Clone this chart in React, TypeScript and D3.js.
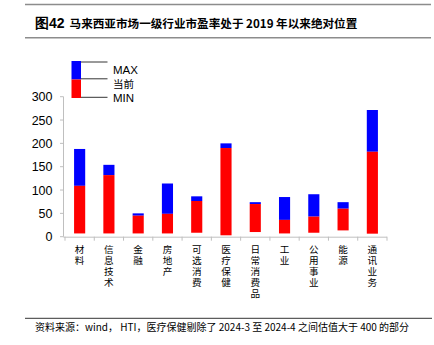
import React from "react";
import * as d3 from "d3";

const categories = ["材料", "信息技术", "金融", "房地产", "可选消费", "医疗保健", "日常消费品", "工业", "公用事业", "能源", "通讯业务"];
const minVals = [7, 7, 7, 7, 8.5, 3, 10, 7, 8.5, 13.5, 6.5];
const curVals = [109, 132, 45, 49, 76.5, 190, 70, 36, 43, 60, 182];
const maxVals = [188, 154, 50, 114, 86.5, 200, 74, 85, 91, 74, 271.5];
const yTicks = [0, 50, 100, 150, 200, 250, 300];
const legendLabels = ["MAX", "当前", "MIN"];
const title = "马来西亚市场一级行业市盈率处于 2019 年以来绝对位置";
const titlePrefix = "图42";
const source = "资料来源：wind， HTI，医疗保健剔除了 2024-3 至 2024-4 之间估值大于 400 的部分";

const RED = "#FF0000";
const BLUE = "#0000FF";
const AXIS = "#BFBFBF";
const CJK = "'Noto Sans CJK SC', sans-serif";
const LAT = "'Liberation Sans', Arial, sans-serif";

export default function App() {
  const x = d3.scaleBand<string>().domain(categories).range([65, 387]).paddingInner(0.62).paddingOuter(0.31);
  const y = d3.scaleLinear().domain([0, 300]).range([236.7, 96.7]);
  const step = x.step();
  const x0 = 65;

  return (
    <svg width={434} height={345} style={{ position: "absolute", left: 0, top: 0, background: "#fff" }}>
      {/* title */}
      <line x1={25} x2={431} y1={4.5} y2={4.5} stroke="#8c8c8c" strokeWidth={1.5} />
      <text x={35} y={27.5} fontFamily={CJK} fontSize={11.6} fill="#000">
        <tspan fontWeight="bold" fontFamily={LAT} fontSize={14}>{titlePrefix}</tspan>
        <tspan dx={5} fontWeight="bold">{title}</tspan>
      </text>
      <line x1={25} x2={431} y1={37.8} y2={37.8} stroke="#8c8c8c" strokeWidth={1.5} />

      {/* legend */}
      <rect x={71.5} y={61} width={9.5} height={18.5} fill={BLUE} />
      <rect x={71.5} y={79.5} width={9.5} height={18.5} fill={RED} />
      <line x1={81} x2={107.5} y1={62} y2={62} stroke="#000" strokeWidth={0.8} />
      <line x1={81} x2={107.5} y1={78.8} y2={78.8} stroke="#000" strokeWidth={0.8} />
      <line x1={81} x2={107.5} y1={97.3} y2={97.3} stroke="#000" strokeWidth={0.8} />
      <text x={113} y={73.5} fontFamily={LAT} fontSize={11.5}>{legendLabels[0]}</text>
      <text x={113} y={87.5} fontFamily={CJK} fontSize={10.5}>{legendLabels[1]}</text>
      <text x={113} y={102} fontFamily={LAT} fontSize={11.5}>{legendLabels[2]}</text>

      {/* y axis */}
      <line x1={63.5} x2={63.5} y1={y(300)} y2={y(0)} stroke={AXIS} strokeWidth={1} />
      {yTicks.map((t) => (
        <g key={t}>
          <line x1={60} x2={63.5} y1={y(t)} y2={y(t)} stroke={AXIS} />
          <text x={52.5} y={y(t) + 4.5} textAnchor="end" fontFamily={LAT} fontSize={12.5} fill="#000">{t}</text>
        </g>
      ))}

      {/* x axis */}
      <line x1={63.5} x2={387} y1={y(0) + 0.5} y2={y(0) + 0.5} stroke={AXIS} strokeWidth={1} />
      {d3.range(categories.length + 1).map((i) => (
        <line key={i} x1={x0 + i * step} x2={x0 + i * step} y1={y(0)} y2={y(0) + 4} stroke={AXIS} />
      ))}

      {/* bars */}
      {categories.map((c, i) => {
        const bx = x(c)!;
        const bw = x.bandwidth();
        return (
          <g key={c}>
            <rect x={bx} y={y(maxVals[i])} width={bw} height={y(curVals[i]) - y(maxVals[i])} fill={BLUE} />
            <rect x={bx} y={y(curVals[i])} width={bw} height={y(minVals[i]) - y(curVals[i])} fill={RED} />
          </g>
        );
      })}

      {/* category labels (vertical) */}
      {categories.map((c) => {
        const cx = x(c)! + x.bandwidth() / 2;
        return (
          <text key={c} x={cx} y={245} fontFamily={CJK} fontSize={9.6} letterSpacing={1.3} fill="#000"
            style={{ writingMode: "vertical-rl" as any }}>{c}</text>
        );
      })}

      {/* source */}
      <line x1={25} x2={432} y1={318.3} y2={318.3} stroke="#000" strokeWidth={0.8} />
      <text x={35} y={330.5} fontFamily={CJK} fontSize={10} fill="#000">{source}</text>
    </svg>
  );
}
